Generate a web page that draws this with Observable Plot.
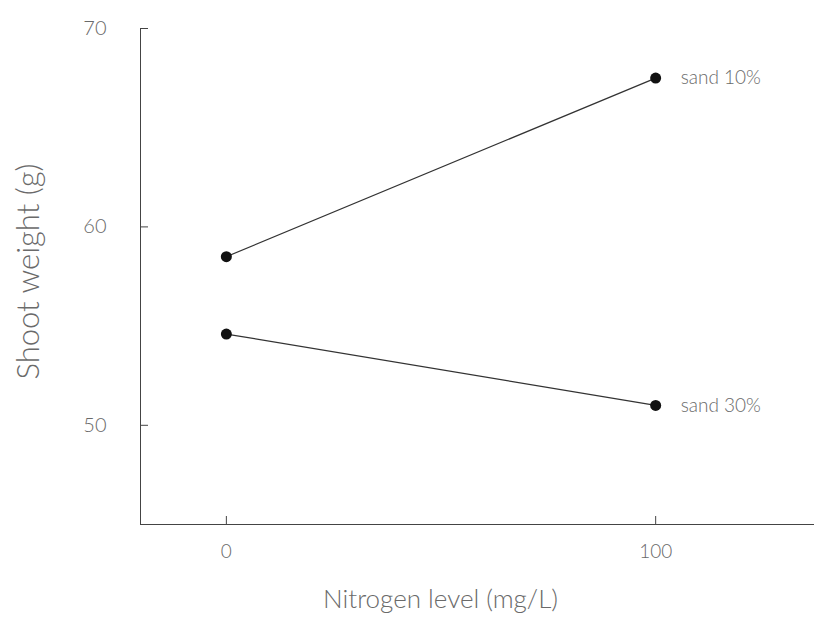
<!DOCTYPE html>
<html>
<head>
<meta charset="utf-8">
<script src="https://cdn.jsdelivr.net/npm/d3@7"></script>
<script src="https://cdn.jsdelivr.net/npm/@observablehq/plot@0.6"></script>
<style>
  html, body { margin: 0; padding: 0; background: #fff; }
  svg { display: block; }
</style>
</head>
<body>
<div id="chart"></div>
<script>
const nitrogen = [0, 100];
const sand10 = [58.5, 67.5];
const sand30 = [54.6, 51.0];
const seriesNames = ["sand 10%", "sand 30%"];
const yTicks = [50, 60, 70];
const xTicks = [0, 100];

const rows = [];
[sand10, sand30].forEach((vals, i) => {
  vals.forEach((v, j) => rows.push({series: seriesNames[i], n: nitrogen[j], w: v}));
});
const lastPts = rows.filter(d => d.n === nitrogen[nitrogen.length - 1]);

const font = "Lato, 'Open Sans', sans-serif";
const textColor = "#6a6a6a";

const chart = Plot.plot({
  width: 814,
  height: 626,
  marginLeft: 140,
  marginRight: 0,
  marginTop: 28,
  marginBottom: 102,
  style: {fontFamily: font, fontWeight: 300, background: "#fff", overflow: "visible"},
  x: {domain: [-20, 137], ticks: xTicks},
  y: {domain: [45, 70], ticks: yTicks},
  marks: [
    Plot.axisY({ticks: yTicks, text: null, tickSize: 8, dx: 8, stroke: "#444", label: null}),
    Plot.axisY({ticks: yTicks, tickSize: 0, tickPadding: 34, fontSize: 20, fill: textColor, label: null}),
    Plot.axisX({ticks: xTicks, text: null, tickSize: 8, dy: -8, stroke: "#444", label: null}),
    Plot.axisX({ticks: xTicks, tickSize: 0, tickPadding: 20, fontSize: 19, fill: textColor, label: null}),
    Plot.frame({anchor: "left", stroke: "#444"}),
    Plot.frame({anchor: "bottom", stroke: "#444"}),
    Plot.line(rows, {x: "n", y: "w", z: "series", stroke: "#333", strokeWidth: 1.2}),
    Plot.dot(rows, {x: "n", y: "w", r: 5.5, fill: "#111", stroke: null}),
    Plot.text(lastPts, {x: "n", y: "w", text: "series", textAnchor: "start", dx: 25, fontSize: 19, fill: textColor}),
    Plot.text(["Shoot weight (g)"], {frameAnchor: "left", textAnchor: "middle", dx: -111, dy: -5, rotate: -90, fontSize: 31, fill: textColor}),
    Plot.text(["Nitrogen level (mg/L)"], {frameAnchor: "bottom", textAnchor: "middle", dx: -37, dy: 83, fontSize: 26, fill: textColor})
  ]
});
document.getElementById("chart").appendChild(chart);
</script>
</body>
</html>
